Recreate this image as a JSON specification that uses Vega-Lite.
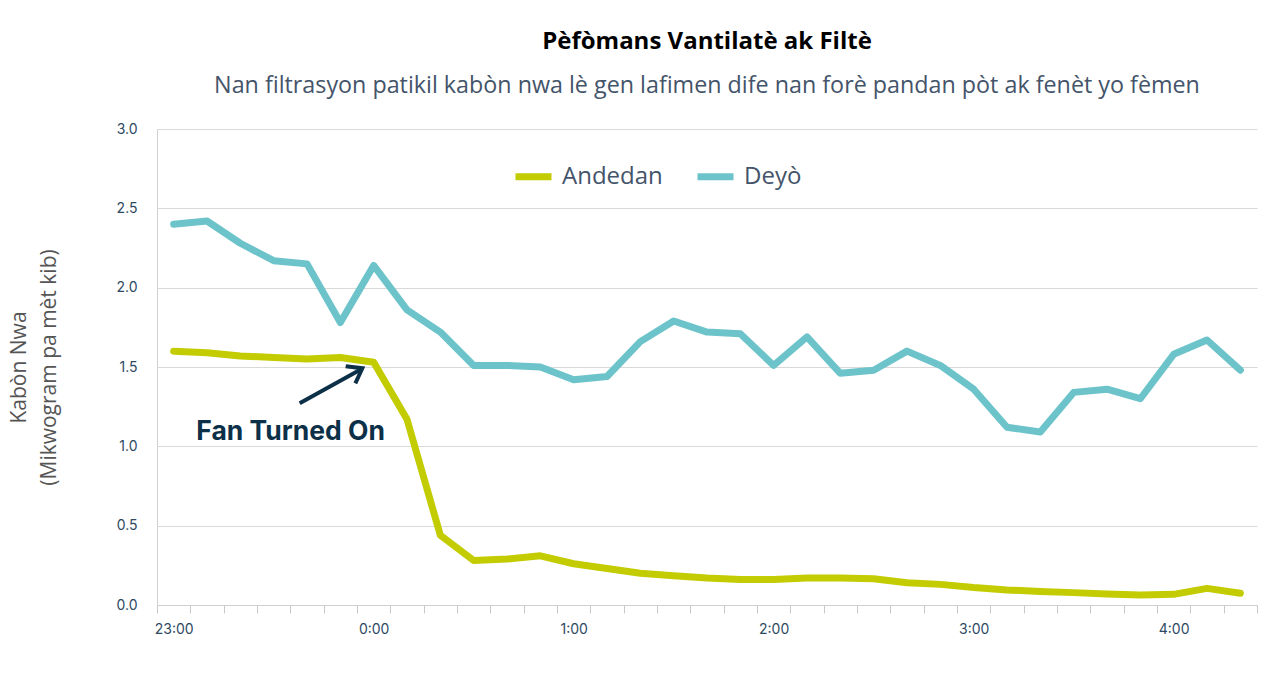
{
  "$schema": "https://vega.github.io/schema/vega-lite/v6.json",
  "width": 1100,
  "height": 476,
  "autosize": {"type": "none"},
  "padding": {"left": 157, "top": 129, "right": 5, "bottom": 78},
  "background": "white",
  "config": {
    "view": {"stroke": null},
    "axis": {
      "labelFont": "Inter",
      "labelFontSize": 14,
      "labelColor": "#2e4a62",
      "domainColor": "#d0d0d0",
      "gridColor": "#d9d9d9",
      "tickColor": "#c8c8c8"
    }
  },
  "title": {
    "text": "Pèfòmans Vantilatè ak Filtè",
    "subtitle": "Nan filtrasyon patikil kabòn nwa lè gen lafimen dife nan forè pandan pòt ak fenèt yo fèmen",
    "anchor": "middle",
    "font": "Open Sans",
    "fontSize": 24,
    "fontWeight": "bold",
    "color": "#000000",
    "subtitleFont": "Open Sans",
    "subtitleFontSize": 23.3,
    "subtitleColor": "#44546a",
    "subtitlePadding": 21,
    "offset": 25
  },
  "datasets": {
    "series": [
      {"t": 0, "v": 2.40, "s": "Deyò"}, {"t": 10, "v": 2.42, "s": "Deyò"}, {"t": 20, "v": 2.28, "s": "Deyò"},
      {"t": 30, "v": 2.17, "s": "Deyò"}, {"t": 40, "v": 2.15, "s": "Deyò"}, {"t": 50, "v": 1.78, "s": "Deyò"},
      {"t": 60, "v": 2.14, "s": "Deyò"}, {"t": 70, "v": 1.86, "s": "Deyò"}, {"t": 80, "v": 1.72, "s": "Deyò"},
      {"t": 90, "v": 1.51, "s": "Deyò"}, {"t": 100, "v": 1.51, "s": "Deyò"}, {"t": 110, "v": 1.50, "s": "Deyò"},
      {"t": 120, "v": 1.42, "s": "Deyò"}, {"t": 130, "v": 1.44, "s": "Deyò"}, {"t": 140, "v": 1.66, "s": "Deyò"},
      {"t": 150, "v": 1.79, "s": "Deyò"}, {"t": 160, "v": 1.72, "s": "Deyò"}, {"t": 170, "v": 1.71, "s": "Deyò"},
      {"t": 180, "v": 1.51, "s": "Deyò"}, {"t": 190, "v": 1.69, "s": "Deyò"}, {"t": 200, "v": 1.46, "s": "Deyò"},
      {"t": 210, "v": 1.48, "s": "Deyò"}, {"t": 220, "v": 1.60, "s": "Deyò"}, {"t": 230, "v": 1.51, "s": "Deyò"},
      {"t": 240, "v": 1.36, "s": "Deyò"}, {"t": 250, "v": 1.12, "s": "Deyò"}, {"t": 260, "v": 1.09, "s": "Deyò"},
      {"t": 270, "v": 1.34, "s": "Deyò"}, {"t": 280, "v": 1.36, "s": "Deyò"}, {"t": 290, "v": 1.30, "s": "Deyò"},
      {"t": 300, "v": 1.58, "s": "Deyò"}, {"t": 310, "v": 1.67, "s": "Deyò"}, {"t": 320, "v": 1.48, "s": "Deyò"},
      {"t": 0, "v": 1.60, "s": "Andedan"}, {"t": 10, "v": 1.59, "s": "Andedan"}, {"t": 20, "v": 1.57, "s": "Andedan"},
      {"t": 30, "v": 1.56, "s": "Andedan"}, {"t": 40, "v": 1.55, "s": "Andedan"}, {"t": 50, "v": 1.56, "s": "Andedan"},
      {"t": 60, "v": 1.53, "s": "Andedan"}, {"t": 70, "v": 1.17, "s": "Andedan"}, {"t": 80, "v": 0.44, "s": "Andedan"},
      {"t": 90, "v": 0.28, "s": "Andedan"}, {"t": 100, "v": 0.29, "s": "Andedan"}, {"t": 110, "v": 0.31, "s": "Andedan"},
      {"t": 120, "v": 0.26, "s": "Andedan"}, {"t": 130, "v": 0.23, "s": "Andedan"}, {"t": 140, "v": 0.20, "s": "Andedan"},
      {"t": 150, "v": 0.185, "s": "Andedan"}, {"t": 160, "v": 0.17, "s": "Andedan"}, {"t": 170, "v": 0.16, "s": "Andedan"},
      {"t": 180, "v": 0.16, "s": "Andedan"}, {"t": 190, "v": 0.17, "s": "Andedan"}, {"t": 200, "v": 0.17, "s": "Andedan"},
      {"t": 210, "v": 0.165, "s": "Andedan"}, {"t": 220, "v": 0.14, "s": "Andedan"}, {"t": 230, "v": 0.13, "s": "Andedan"},
      {"t": 240, "v": 0.11, "s": "Andedan"}, {"t": 250, "v": 0.095, "s": "Andedan"}, {"t": 260, "v": 0.085, "s": "Andedan"},
      {"t": 270, "v": 0.078, "s": "Andedan"}, {"t": 280, "v": 0.07, "s": "Andedan"}, {"t": 290, "v": 0.063, "s": "Andedan"},
      {"t": 300, "v": 0.067, "s": "Andedan"}, {"t": 310, "v": 0.105, "s": "Andedan"}, {"t": 320, "v": 0.074, "s": "Andedan"}
    ],
    "shaft": [{"x": 37.8, "y": 1.271, "x2": 56.1, "y2": 1.485}],
    "head": [
      {"k": 0, "x": 51.6, "y": 1.505},
      {"k": 1, "x": 56.6, "y": 1.492},
      {"k": 2, "x": 54.5, "y": 1.397}
    ],
    "label": [{"x": 35.1, "y": 1.04, "txt": "Fan Turned On"}]
  },
  "resolve": {"axis": {"x": "independent", "y": "independent"}},
  "layer": [
    {
      "data": {"name": "series"},
      "mark": {"type": "line", "strokeWidth": 7, "strokeCap": "round", "strokeJoin": "round"},
      "encoding": {
        "x": {
          "field": "t", "type": "quantitative",
          "scale": {"domain": [-5, 325], "nice": false, "zero": false},
          "axis": {
            "orient": "bottom",
            "values": [0, 60, 120, 180, 240, 300],
            "labelExpr": "((23 + datum.value / 60) % 24) + ':00'",
            "ticks": false, "grid": false, "domain": true,
            "labelPadding": 17, "title": null
          }
        },
        "y": {
          "field": "v", "type": "quantitative",
          "scale": {"domain": [0, 3], "nice": false},
          "axis": {
            "orient": "left",
            "values": [0, 0.5, 1, 1.5, 2, 2.5, 3],
            "format": ".1f",
            "ticks": false, "grid": true, "domain": true,
            "labelPadding": 20,
            "title": ["Kabòn Nwa", "(Mikwogram pa mèt kib)"],
            "titleFont": "Open Sans",
            "titleFontSize": 21,
            "titleFontWeight": "normal",
            "titleColor": "#555555",
            "titleLineHeight": 30,
            "titlePadding": 56
          }
        },
        "color": {
          "field": "s", "type": "nominal",
          "scale": {"domain": ["Andedan", "Deyò"], "range": ["#c3cc00", "#6cc4ca"]},
          "legend": {
            "title": null,
            "orient": "none",
            "direction": "horizontal",
            "legendX": 355,
            "legendY": 26,
            "symbolType": "stroke",
            "symbolStrokeWidth": 7,
            "symbolSize": 1296,
            "labelFont": "Open Sans",
            "labelFontSize": 24,
            "labelColor": "#44546a",
            "labelOffset": 7,
            "columnPadding": 20
          }
        }
      }
    },
    {
      "data": {"name": "shaft"},
      "mark": {"type": "rule", "strokeWidth": 4, "color": "#0d3049", "strokeCap": "butt"},
      "encoding": {
        "x": {
          "field": "x", "type": "quantitative",
          "axis": {
            "orient": "bottom",
            "values": [-5, 5, 15, 25, 35, 45, 55, 65, 75, 85, 95, 105, 115, 125, 135, 145, 155, 165, 175, 185, 195, 205, 215, 225, 235, 245, 255, 265, 275, 285, 295, 305, 315, 325],
            "labels": false, "ticks": true, "tickSize": 8, "grid": false, "domain": false, "title": null
          }
        },
        "y": {"field": "y", "type": "quantitative", "axis": null},
        "x2": {"field": "x2"},
        "y2": {"field": "y2"}
      }
    },
    {
      "data": {"name": "head"},
      "mark": {"type": "line", "strokeWidth": 4, "color": "#0d3049", "strokeJoin": "miter", "strokeCap": "butt"},
      "encoding": {
        "x": {"field": "x", "type": "quantitative", "axis": null},
        "y": {"field": "y", "type": "quantitative", "axis": null},
        "order": {"field": "k", "type": "quantitative"}
      }
    },
    {
      "data": {"name": "label"},
      "mark": {"type": "text", "font": "Inter", "fontSize": 26.5, "fontWeight": "bold", "color": "#0d3049", "align": "center", "baseline": "alphabetic"},
      "encoding": {
        "x": {"field": "x", "type": "quantitative", "axis": null},
        "y": {"field": "y", "type": "quantitative", "axis": null},
        "text": {"field": "txt"}
      }
    }
  ]
}
